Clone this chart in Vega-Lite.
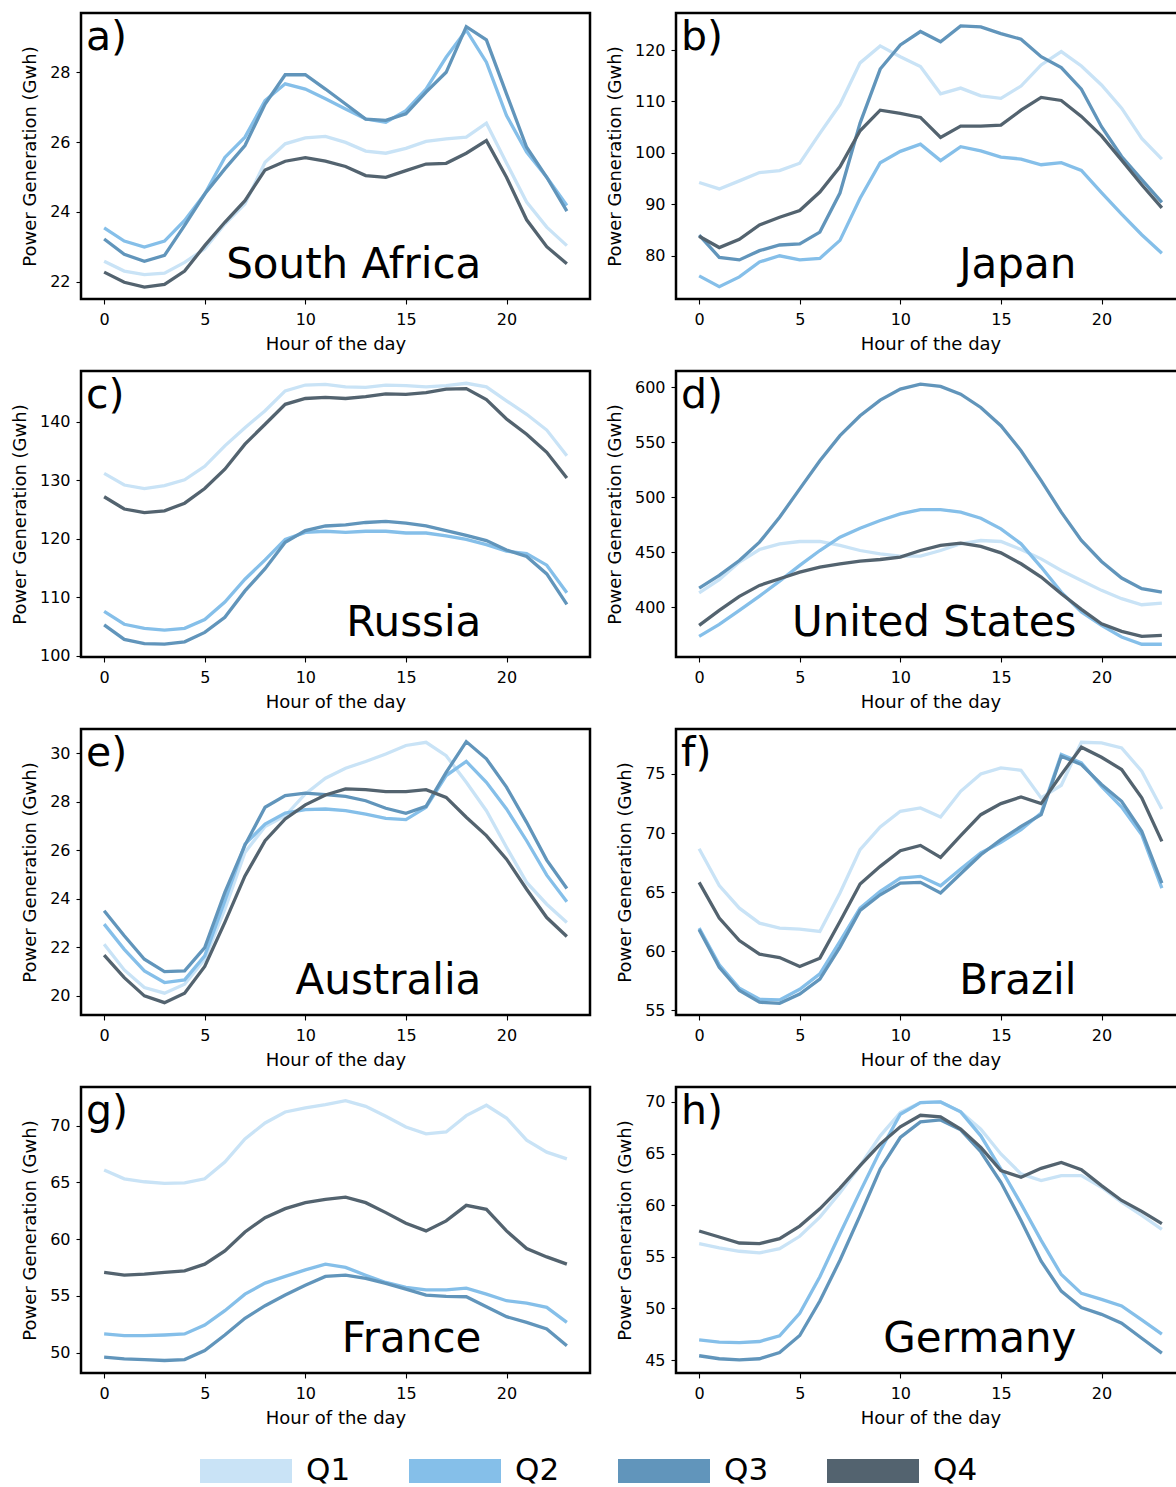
{
"$schema": "https://vega.github.io/schema/vega-lite/v6.json",
"background": "white",
"padding": {"left": 10, "top": 11, "right": 0, "bottom": 0},
"config": {
  "font": "DejaVu Sans",
  "view": {"stroke": "black", "strokeWidth": 2.5},
  "axis": {"grid": false, "domain": false, "tickColor": "black", "tickSize": 5, "tickWidth": 1.1, "labelColor": "black", "labelFontSize": 16, "titleColor": "black", "titleFontSize": 18, "titleFontWeight": "normal", "labelFont": "DejaVu Sans", "titleFont": "DejaVu Sans"},
  "axisX": {"labelPadding": 7, "titlePadding": 8},
  "axisY": {"labelPadding": 6, "titlePadding": 10},
  "legend": {"labelFont": "DejaVu Sans"}
},
"datasets": {
"za": [
{"q":"Q1","h":0,"v":22.58},{"q":"Q1","h":1,"v":22.30},{"q":"Q1","h":2,"v":22.20},{"q":"Q1","h":3,"v":22.24},{"q":"Q1","h":4,"v":22.55},{"q":"Q1","h":5,"v":22.94},{"q":"Q1","h":6,"v":23.65},{"q":"Q1","h":7,"v":24.23},{"q":"Q1","h":8,"v":25.42},{"q":"Q1","h":9,"v":25.95},{"q":"Q1","h":10,"v":26.12},{"q":"Q1","h":11,"v":26.16},{"q":"Q1","h":12,"v":25.99},{"q":"Q1","h":13,"v":25.74},{"q":"Q1","h":14,"v":25.68},{"q":"Q1","h":15,"v":25.82},{"q":"Q1","h":16,"v":26.02},{"q":"Q1","h":17,"v":26.09},{"q":"Q1","h":18,"v":26.14},{"q":"Q1","h":19,"v":26.54},{"q":"Q1","h":20,"v":25.40},{"q":"Q1","h":21,"v":24.28},{"q":"Q1","h":22,"v":23.56},{"q":"Q1","h":23,"v":23.03},
{"q":"Q2","h":0,"v":23.54},{"q":"Q2","h":1,"v":23.16},{"q":"Q2","h":2,"v":22.99},{"q":"Q2","h":3,"v":23.16},{"q":"Q2","h":4,"v":23.75},{"q":"Q2","h":5,"v":24.51},{"q":"Q2","h":6,"v":25.56},{"q":"Q2","h":7,"v":26.14},{"q":"Q2","h":8,"v":27.19},{"q":"Q2","h":9,"v":27.67},{"q":"Q2","h":10,"v":27.52},{"q":"Q2","h":11,"v":27.24},{"q":"Q2","h":12,"v":26.95},{"q":"Q2","h":13,"v":26.66},{"q":"Q2","h":14,"v":26.57},{"q":"Q2","h":15,"v":26.90},{"q":"Q2","h":16,"v":27.52},{"q":"Q2","h":17,"v":28.43},{"q":"Q2","h":18,"v":29.21},{"q":"Q2","h":19,"v":28.29},{"q":"Q2","h":20,"v":26.76},{"q":"Q2","h":21,"v":25.71},{"q":"Q2","h":22,"v":24.99},{"q":"Q2","h":23,"v":24.18},
{"q":"Q3","h":0,"v":23.22},{"q":"Q3","h":1,"v":22.78},{"q":"Q3","h":2,"v":22.58},{"q":"Q3","h":3,"v":22.75},{"q":"Q3","h":4,"v":23.61},{"q":"Q3","h":5,"v":24.51},{"q":"Q3","h":6,"v":25.23},{"q":"Q3","h":7,"v":25.90},{"q":"Q3","h":8,"v":27.09},{"q":"Q3","h":9,"v":27.93},{"q":"Q3","h":10,"v":27.93},{"q":"Q3","h":11,"v":27.52},{"q":"Q3","h":12,"v":27.09},{"q":"Q3","h":13,"v":26.66},{"q":"Q3","h":14,"v":26.62},{"q":"Q3","h":15,"v":26.81},{"q":"Q3","h":16,"v":27.43},{"q":"Q3","h":17,"v":28.00},{"q":"Q3","h":18,"v":29.31},{"q":"Q3","h":19,"v":28.93},{"q":"Q3","h":20,"v":27.38},{"q":"Q3","h":21,"v":25.85},{"q":"Q3","h":22,"v":24.99},{"q":"Q3","h":23,"v":24.02},
{"q":"Q4","h":0,"v":22.27},{"q":"Q4","h":1,"v":21.98},{"q":"Q4","h":2,"v":21.84},{"q":"Q4","h":3,"v":21.92},{"q":"Q4","h":4,"v":22.30},{"q":"Q4","h":5,"v":23.03},{"q":"Q4","h":6,"v":23.70},{"q":"Q4","h":7,"v":24.32},{"q":"Q4","h":8,"v":25.20},{"q":"Q4","h":9,"v":25.45},{"q":"Q4","h":10,"v":25.55},{"q":"Q4","h":11,"v":25.45},{"q":"Q4","h":12,"v":25.30},{"q":"Q4","h":13,"v":25.04},{"q":"Q4","h":14,"v":24.99},{"q":"Q4","h":15,"v":25.18},{"q":"Q4","h":16,"v":25.37},{"q":"Q4","h":17,"v":25.39},{"q":"Q4","h":18,"v":25.68},{"q":"Q4","h":19,"v":26.04},{"q":"Q4","h":20,"v":24.99},{"q":"Q4","h":21,"v":23.77},{"q":"Q4","h":22,"v":23.00},{"q":"Q4","h":23,"v":22.51}
],
"jp": [
{"q":"Q1","h":0,"v":94.24},{"q":"Q1","h":1,"v":93.0},{"q":"Q1","h":2,"v":94.56},{"q":"Q1","h":3,"v":96.18},{"q":"Q1","h":4,"v":96.57},{"q":"Q1","h":5,"v":98.0},{"q":"Q1","h":6,"v":103.8},{"q":"Q1","h":7,"v":109.4},{"q":"Q1","h":8,"v":117.5},{"q":"Q1","h":9,"v":120.8},{"q":"Q1","h":10,"v":118.7},{"q":"Q1","h":11,"v":116.8},{"q":"Q1","h":12,"v":111.5},{"q":"Q1","h":13,"v":112.6},{"q":"Q1","h":14,"v":111.1},{"q":"Q1","h":15,"v":110.6},{"q":"Q1","h":16,"v":113.0},{"q":"Q1","h":17,"v":117.1},{"q":"Q1","h":18,"v":119.7},{"q":"Q1","h":19,"v":116.9},{"q":"Q1","h":20,"v":113.2},{"q":"Q1","h":21,"v":108.7},{"q":"Q1","h":22,"v":102.8},{"q":"Q1","h":23,"v":98.8},
{"q":"Q2","h":0,"v":76.1},{"q":"Q2","h":1,"v":74.0},{"q":"Q2","h":2,"v":75.9},{"q":"Q2","h":3,"v":78.8},{"q":"Q2","h":4,"v":80.0},{"q":"Q2","h":5,"v":79.2},{"q":"Q2","h":6,"v":79.5},{"q":"Q2","h":7,"v":83.0},{"q":"Q2","h":8,"v":91.2},{"q":"Q2","h":9,"v":98.1},{"q":"Q2","h":10,"v":100.3},{"q":"Q2","h":11,"v":101.7},{"q":"Q2","h":12,"v":98.5},{"q":"Q2","h":13,"v":101.2},{"q":"Q2","h":14,"v":100.4},{"q":"Q2","h":15,"v":99.2},{"q":"Q2","h":16,"v":98.8},{"q":"Q2","h":17,"v":97.7},{"q":"Q2","h":18,"v":98.1},{"q":"Q2","h":19,"v":96.6},{"q":"Q2","h":20,"v":92.3},{"q":"Q2","h":21,"v":88.1},{"q":"Q2","h":22,"v":84.1},{"q":"Q2","h":23,"v":80.5},
{"q":"Q3","h":0,"v":84.0},{"q":"Q3","h":1,"v":79.7},{"q":"Q3","h":2,"v":79.2},{"q":"Q3","h":3,"v":81.0},{"q":"Q3","h":4,"v":82.1},{"q":"Q3","h":5,"v":82.3},{"q":"Q3","h":6,"v":84.6},{"q":"Q3","h":7,"v":92.2},{"q":"Q3","h":8,"v":105.8},{"q":"Q3","h":9,"v":116.3},{"q":"Q3","h":10,"v":121.0},{"q":"Q3","h":11,"v":123.6},{"q":"Q3","h":12,"v":121.6},{"q":"Q3","h":13,"v":124.7},{"q":"Q3","h":14,"v":124.5},{"q":"Q3","h":15,"v":123.2},{"q":"Q3","h":16,"v":122.1},{"q":"Q3","h":17,"v":118.7},{"q":"Q3","h":18,"v":116.6},{"q":"Q3","h":19,"v":112.4},{"q":"Q3","h":20,"v":105.1},{"q":"Q3","h":21,"v":99.3},{"q":"Q3","h":22,"v":94.8},{"q":"Q3","h":23,"v":90.4},
{"q":"Q4","h":0,"v":83.8},{"q":"Q4","h":1,"v":81.6},{"q":"Q4","h":2,"v":83.2},{"q":"Q4","h":3,"v":86.0},{"q":"Q4","h":4,"v":87.5},{"q":"Q4","h":5,"v":88.8},{"q":"Q4","h":6,"v":92.4},{"q":"Q4","h":7,"v":97.3},{"q":"Q4","h":8,"v":104.3},{"q":"Q4","h":9,"v":108.3},{"q":"Q4","h":10,"v":107.7},{"q":"Q4","h":11,"v":106.9},{"q":"Q4","h":12,"v":103.0},{"q":"Q4","h":13,"v":105.2},{"q":"Q4","h":14,"v":105.2},{"q":"Q4","h":15,"v":105.4},{"q":"Q4","h":16,"v":108.3},{"q":"Q4","h":17,"v":110.8},{"q":"Q4","h":18,"v":110.2},{"q":"Q4","h":19,"v":107.1},{"q":"Q4","h":20,"v":103.3},{"q":"Q4","h":21,"v":98.6},{"q":"Q4","h":22,"v":93.8},{"q":"Q4","h":23,"v":89.3}
],
"ru": [
{"q":"Q1","h":0,"v":131.2},{"q":"Q1","h":1,"v":129.2},{"q":"Q1","h":2,"v":128.6},{"q":"Q1","h":3,"v":129.1},{"q":"Q1","h":4,"v":130.1},{"q":"Q1","h":5,"v":132.4},{"q":"Q1","h":6,"v":135.9},{"q":"Q1","h":7,"v":139.0},{"q":"Q1","h":8,"v":141.9},{"q":"Q1","h":9,"v":145.3},{"q":"Q1","h":10,"v":146.3},{"q":"Q1","h":11,"v":146.4},{"q":"Q1","h":12,"v":146.0},{"q":"Q1","h":13,"v":145.9},{"q":"Q1","h":14,"v":146.3},{"q":"Q1","h":15,"v":146.2},{"q":"Q1","h":16,"v":146.0},{"q":"Q1","h":17,"v":146.2},{"q":"Q1","h":18,"v":146.6},{"q":"Q1","h":19,"v":146.0},{"q":"Q1","h":20,"v":143.6},{"q":"Q1","h":21,"v":141.3},{"q":"Q1","h":22,"v":138.6},{"q":"Q1","h":23,"v":134.2},
{"q":"Q2","h":0,"v":107.6},{"q":"Q2","h":1,"v":105.4},{"q":"Q2","h":2,"v":104.7},{"q":"Q2","h":3,"v":104.4},{"q":"Q2","h":4,"v":104.7},{"q":"Q2","h":5,"v":106.2},{"q":"Q2","h":6,"v":109.2},{"q":"Q2","h":7,"v":113.1},{"q":"Q2","h":8,"v":116.4},{"q":"Q2","h":9,"v":119.9},{"q":"Q2","h":10,"v":121.1},{"q":"Q2","h":11,"v":121.3},{"q":"Q2","h":12,"v":121.1},{"q":"Q2","h":13,"v":121.3},{"q":"Q2","h":14,"v":121.3},{"q":"Q2","h":15,"v":121.0},{"q":"Q2","h":16,"v":121.0},{"q":"Q2","h":17,"v":120.5},{"q":"Q2","h":18,"v":119.9},{"q":"Q2","h":19,"v":119.0},{"q":"Q2","h":20,"v":117.9},{"q":"Q2","h":21,"v":117.5},{"q":"Q2","h":22,"v":115.5},{"q":"Q2","h":23,"v":110.8},
{"q":"Q3","h":0,"v":105.3},{"q":"Q3","h":1,"v":102.8},{"q":"Q3","h":2,"v":102.1},{"q":"Q3","h":3,"v":102.0},{"q":"Q3","h":4,"v":102.4},{"q":"Q3","h":5,"v":104.0},{"q":"Q3","h":6,"v":106.6},{"q":"Q3","h":7,"v":111.1},{"q":"Q3","h":8,"v":114.9},{"q":"Q3","h":9,"v":119.4},{"q":"Q3","h":10,"v":121.4},{"q":"Q3","h":11,"v":122.2},{"q":"Q3","h":12,"v":122.4},{"q":"Q3","h":13,"v":122.8},{"q":"Q3","h":14,"v":123.0},{"q":"Q3","h":15,"v":122.7},{"q":"Q3","h":16,"v":122.2},{"q":"Q3","h":17,"v":121.4},{"q":"Q3","h":18,"v":120.6},{"q":"Q3","h":19,"v":119.7},{"q":"Q3","h":20,"v":118.1},{"q":"Q3","h":21,"v":117.0},{"q":"Q3","h":22,"v":114.0},{"q":"Q3","h":23,"v":108.8},
{"q":"Q4","h":0,"v":127.2},{"q":"Q4","h":1,"v":125.1},{"q":"Q4","h":2,"v":124.5},{"q":"Q4","h":3,"v":124.8},{"q":"Q4","h":4,"v":126.1},{"q":"Q4","h":5,"v":128.6},{"q":"Q4","h":6,"v":131.9},{"q":"Q4","h":7,"v":136.2},{"q":"Q4","h":8,"v":139.6},{"q":"Q4","h":9,"v":143.0},{"q":"Q4","h":10,"v":144.0},{"q":"Q4","h":11,"v":144.2},{"q":"Q4","h":12,"v":144.0},{"q":"Q4","h":13,"v":144.3},{"q":"Q4","h":14,"v":144.8},{"q":"Q4","h":15,"v":144.7},{"q":"Q4","h":16,"v":145.0},{"q":"Q4","h":17,"v":145.6},{"q":"Q4","h":18,"v":145.7},{"q":"Q4","h":19,"v":143.8},{"q":"Q4","h":20,"v":140.5},{"q":"Q4","h":21,"v":137.9},{"q":"Q4","h":22,"v":134.8},{"q":"Q4","h":23,"v":130.4}
],
"us": [
{"q":"Q1","h":0,"v":413.0},{"q":"Q1","h":1,"v":425.0},{"q":"Q1","h":2,"v":441.0},{"q":"Q1","h":3,"v":452.4},{"q":"Q1","h":4,"v":457.6},{"q":"Q1","h":5,"v":459.7},{"q":"Q1","h":6,"v":459.7},{"q":"Q1","h":7,"v":456.1},{"q":"Q1","h":8,"v":451.5},{"q":"Q1","h":9,"v":448.5},{"q":"Q1","h":10,"v":446.4},{"q":"Q1","h":11,"v":446.4},{"q":"Q1","h":12,"v":451.5},{"q":"Q1","h":13,"v":457.6},{"q":"Q1","h":14,"v":460.6},{"q":"Q1","h":15,"v":459.7},{"q":"Q1","h":16,"v":452.4},{"q":"Q1","h":17,"v":443.9},{"q":"Q1","h":18,"v":433.3},{"q":"Q1","h":19,"v":424.2},{"q":"Q1","h":20,"v":415.2},{"q":"Q1","h":21,"v":407.6},{"q":"Q1","h":22,"v":402.1},{"q":"Q1","h":23,"v":403.6},
{"q":"Q2","h":0,"v":373.3},{"q":"Q2","h":1,"v":384.2},{"q":"Q2","h":2,"v":397.0},{"q":"Q2","h":3,"v":410.0},{"q":"Q2","h":4,"v":423.6},{"q":"Q2","h":5,"v":437.9},{"q":"Q2","h":6,"v":451.5},{"q":"Q2","h":7,"v":463.6},{"q":"Q2","h":8,"v":471.8},{"q":"Q2","h":9,"v":478.8},{"q":"Q2","h":10,"v":484.8},{"q":"Q2","h":11,"v":488.8},{"q":"Q2","h":12,"v":488.8},{"q":"Q2","h":13,"v":486.4},{"q":"Q2","h":14,"v":480.9},{"q":"Q2","h":15,"v":471.2},{"q":"Q2","h":16,"v":457.6},{"q":"Q2","h":17,"v":436.4},{"q":"Q2","h":18,"v":413.6},{"q":"Q2","h":19,"v":395.5},{"q":"Q2","h":20,"v":383.3},{"q":"Q2","h":21,"v":372.7},{"q":"Q2","h":22,"v":366.1},{"q":"Q2","h":23,"v":366.1},
{"q":"Q3","h":0,"v":417.3},{"q":"Q3","h":1,"v":428.8},{"q":"Q3","h":2,"v":442.4},{"q":"Q3","h":3,"v":459.1},{"q":"Q3","h":4,"v":481.8},{"q":"Q3","h":5,"v":507.6},{"q":"Q3","h":6,"v":533.3},{"q":"Q3","h":7,"v":556.1},{"q":"Q3","h":8,"v":574.2},{"q":"Q3","h":9,"v":588.5},{"q":"Q3","h":10,"v":598.5},{"q":"Q3","h":11,"v":603.0},{"q":"Q3","h":12,"v":600.9},{"q":"Q3","h":13,"v":593.9},{"q":"Q3","h":14,"v":581.8},{"q":"Q3","h":15,"v":565.2},{"q":"Q3","h":16,"v":542.4},{"q":"Q3","h":17,"v":515.2},{"q":"Q3","h":18,"v":486.4},{"q":"Q3","h":19,"v":460.6},{"q":"Q3","h":20,"v":441.5},{"q":"Q3","h":21,"v":426.4},{"q":"Q3","h":22,"v":416.7},{"q":"Q3","h":23,"v":413.6},
{"q":"Q4","h":0,"v":383.3},{"q":"Q4","h":1,"v":397.0},{"q":"Q4","h":2,"v":409.7},{"q":"Q4","h":3,"v":419.7},{"q":"Q4","h":4,"v":425.8},{"q":"Q4","h":5,"v":431.8},{"q":"Q4","h":6,"v":436.4},{"q":"Q4","h":7,"v":439.4},{"q":"Q4","h":8,"v":441.8},{"q":"Q4","h":9,"v":443.3},{"q":"Q4","h":10,"v":445.5},{"q":"Q4","h":11,"v":451.5},{"q":"Q4","h":12,"v":456.1},{"q":"Q4","h":13,"v":458.2},{"q":"Q4","h":14,"v":455.2},{"q":"Q4","h":15,"v":449.4},{"q":"Q4","h":16,"v":439.4},{"q":"Q4","h":17,"v":427.3},{"q":"Q4","h":18,"v":412.1},{"q":"Q4","h":19,"v":397.9},{"q":"Q4","h":20,"v":384.8},{"q":"Q4","h":21,"v":377.9},{"q":"Q4","h":22,"v":373.3},{"q":"Q4","h":23,"v":374.2}
],
"au": [
{"q":"Q1","h":0,"v":22.12},{"q":"Q1","h":1,"v":21.06},{"q":"Q1","h":2,"v":20.33},{"q":"Q1","h":3,"v":20.10},{"q":"Q1","h":4,"v":20.47},{"q":"Q1","h":5,"v":21.50},{"q":"Q1","h":6,"v":23.57},{"q":"Q1","h":7,"v":25.91},{"q":"Q1","h":8,"v":26.98},{"q":"Q1","h":9,"v":27.42},{"q":"Q1","h":10,"v":28.32},{"q":"Q1","h":11,"v":28.97},{"q":"Q1","h":12,"v":29.38},{"q":"Q1","h":13,"v":29.66},{"q":"Q1","h":14,"v":29.97},{"q":"Q1","h":15,"v":30.32},{"q":"Q1","h":16,"v":30.45},{"q":"Q1","h":17,"v":29.90},{"q":"Q1","h":18,"v":28.80},{"q":"Q1","h":19,"v":27.63},{"q":"Q1","h":20,"v":26.12},{"q":"Q1","h":21,"v":24.67},{"q":"Q1","h":22,"v":23.77},{"q":"Q1","h":23,"v":23.02},
{"q":"Q2","h":0,"v":22.95},{"q":"Q2","h":1,"v":21.91},{"q":"Q2","h":2,"v":21.02},{"q":"Q2","h":3,"v":20.54},{"q":"Q2","h":4,"v":20.65},{"q":"Q2","h":5,"v":21.64},{"q":"Q2","h":6,"v":23.91},{"q":"Q2","h":7,"v":26.25},{"q":"Q2","h":8,"v":27.08},{"q":"Q2","h":9,"v":27.53},{"q":"Q2","h":10,"v":27.67},{"q":"Q2","h":11,"v":27.70},{"q":"Q2","h":12,"v":27.63},{"q":"Q2","h":13,"v":27.49},{"q":"Q2","h":14,"v":27.31},{"q":"Q2","h":15,"v":27.26},{"q":"Q2","h":16,"v":27.77},{"q":"Q2","h":17,"v":29.08},{"q":"Q2","h":18,"v":29.66},{"q":"Q2","h":19,"v":28.80},{"q":"Q2","h":20,"v":27.70},{"q":"Q2","h":21,"v":26.39},{"q":"Q2","h":22,"v":24.97},{"q":"Q2","h":23,"v":23.87},
{"q":"Q3","h":0,"v":23.50},{"q":"Q3","h":1,"v":22.47},{"q":"Q3","h":2,"v":21.50},{"q":"Q3","h":3,"v":20.99},{"q":"Q3","h":4,"v":21.02},{"q":"Q3","h":5,"v":21.98},{"q":"Q3","h":6,"v":24.26},{"q":"Q3","h":7,"v":26.21},{"q":"Q3","h":8,"v":27.77},{"q":"Q3","h":9,"v":28.25},{"q":"Q3","h":10,"v":28.35},{"q":"Q3","h":11,"v":28.29},{"q":"Q3","h":12,"v":28.22},{"q":"Q3","h":13,"v":28.04},{"q":"Q3","h":14,"v":27.73},{"q":"Q3","h":15,"v":27.52},{"q":"Q3","h":16,"v":27.81},{"q":"Q3","h":17,"v":29.21},{"q":"Q3","h":18,"v":30.48},{"q":"Q3","h":19,"v":29.77},{"q":"Q3","h":20,"v":28.60},{"q":"Q3","h":21,"v":27.15},{"q":"Q3","h":22,"v":25.59},{"q":"Q3","h":23,"v":24.42},
{"q":"Q4","h":0,"v":21.67},{"q":"Q4","h":1,"v":20.74},{"q":"Q4","h":2,"v":19.99},{"q":"Q4","h":3,"v":19.71},{"q":"Q4","h":4,"v":20.10},{"q":"Q4","h":5,"v":21.20},{"q":"Q4","h":6,"v":23.02},{"q":"Q4","h":7,"v":24.94},{"q":"Q4","h":8,"v":26.39},{"q":"Q4","h":9,"v":27.29},{"q":"Q4","h":10,"v":27.87},{"q":"Q4","h":11,"v":28.28},{"q":"Q4","h":12,"v":28.53},{"q":"Q4","h":13,"v":28.50},{"q":"Q4","h":14,"v":28.42},{"q":"Q4","h":15,"v":28.42},{"q":"Q4","h":16,"v":28.50},{"q":"Q4","h":17,"v":28.18},{"q":"Q4","h":18,"v":27.36},{"q":"Q4","h":19,"v":26.60},{"q":"Q4","h":20,"v":25.63},{"q":"Q4","h":21,"v":24.39},{"q":"Q4","h":22,"v":23.22},{"q":"Q4","h":23,"v":22.44}
],
"br": [
{"q":"Q1","h":0,"v":68.67},{"q":"Q1","h":1,"v":65.56},{"q":"Q1","h":2,"v":63.64},{"q":"Q1","h":3,"v":62.37},{"q":"Q1","h":4,"v":61.95},{"q":"Q1","h":5,"v":61.86},{"q":"Q1","h":6,"v":61.67},{"q":"Q1","h":7,"v":64.92},{"q":"Q1","h":8,"v":68.59},{"q":"Q1","h":9,"v":70.51},{"q":"Q1","h":10,"v":71.84},{"q":"Q1","h":11,"v":72.12},{"q":"Q1","h":12,"v":71.36},{"q":"Q1","h":13,"v":73.53},{"q":"Q1","h":14,"v":75.0},{"q":"Q1","h":15,"v":75.51},{"q":"Q1","h":16,"v":75.31},{"q":"Q1","h":17,"v":72.97},{"q":"Q1","h":18,"v":74.04},{"q":"Q1","h":19,"v":77.68},{"q":"Q1","h":20,"v":77.63},{"q":"Q1","h":21,"v":77.20},{"q":"Q1","h":22,"v":75.23},{"q":"Q1","h":23,"v":72.03},
{"q":"Q2","h":0,"v":61.95},{"q":"Q2","h":1,"v":58.84},{"q":"Q2","h":2,"v":56.86},{"q":"Q2","h":3,"v":55.93},{"q":"Q2","h":4,"v":55.88},{"q":"Q2","h":5,"v":56.78},{"q":"Q2","h":6,"v":58.08},{"q":"Q2","h":7,"v":60.82},{"q":"Q2","h":8,"v":63.64},{"q":"Q2","h":9,"v":65.06},{"q":"Q2","h":10,"v":66.19},{"q":"Q2","h":11,"v":66.33},{"q":"Q2","h":12,"v":65.54},{"q":"Q2","h":13,"v":66.95},{"q":"Q2","h":14,"v":68.31},{"q":"Q2","h":15,"v":69.21},{"q":"Q2","h":16,"v":70.28},{"q":"Q2","h":17,"v":71.69},{"q":"Q2","h":18,"v":76.64},{"q":"Q2","h":19,"v":75.93},{"q":"Q2","h":20,"v":73.95},{"q":"Q2","h":21,"v":72.20},{"q":"Q2","h":22,"v":69.86},{"q":"Q2","h":23,"v":65.34},
{"q":"Q3","h":0,"v":61.81},{"q":"Q3","h":1,"v":58.64},{"q":"Q3","h":2,"v":56.67},{"q":"Q3","h":3,"v":55.68},{"q":"Q3","h":4,"v":55.59},{"q":"Q3","h":5,"v":56.38},{"q":"Q3","h":6,"v":57.63},{"q":"Q3","h":7,"v":60.34},{"q":"Q3","h":8,"v":63.45},{"q":"Q3","h":9,"v":64.77},{"q":"Q3","h":10,"v":65.76},{"q":"Q3","h":11,"v":65.82},{"q":"Q3","h":12,"v":64.92},{"q":"Q3","h":13,"v":66.55},{"q":"Q3","h":14,"v":68.16},{"q":"Q3","h":15,"v":69.44},{"q":"Q3","h":16,"v":70.56},{"q":"Q3","h":17,"v":71.55},{"q":"Q3","h":18,"v":76.50},{"q":"Q3","h":19,"v":75.79},{"q":"Q3","h":20,"v":74.10},{"q":"Q3","h":21,"v":72.68},{"q":"Q3","h":22,"v":70.14},{"q":"Q3","h":23,"v":65.76},
{"q":"Q4","h":0,"v":65.82},{"q":"Q4","h":1,"v":62.80},{"q":"Q4","h":2,"v":60.90},{"q":"Q4","h":3,"v":59.75},{"q":"Q4","h":4,"v":59.46},{"q":"Q4","h":5,"v":58.70},{"q":"Q4","h":6,"v":59.41},{"q":"Q4","h":7,"v":62.51},{"q":"Q4","h":8,"v":65.68},{"q":"Q4","h":9,"v":67.18},{"q":"Q4","h":10,"v":68.50},{"q":"Q4","h":11,"v":68.95},{"q":"Q4","h":12,"v":67.94},{"q":"Q4","h":13,"v":69.77},{"q":"Q4","h":14,"v":71.55},{"q":"Q4","h":15,"v":72.49},{"q":"Q4","h":16,"v":73.05},{"q":"Q4","h":17,"v":72.49},{"q":"Q4","h":18,"v":74.94},{"q":"Q4","h":19,"v":77.26},{"q":"Q4","h":20,"v":76.41},{"q":"Q4","h":21,"v":75.37},{"q":"Q4","h":22,"v":72.97},{"q":"Q4","h":23,"v":69.29}
],
"fr": [
{"q":"Q1","h":0,"v":66.08},{"q":"Q1","h":1,"v":65.31},{"q":"Q1","h":2,"v":65.05},{"q":"Q1","h":3,"v":64.90},{"q":"Q1","h":4,"v":64.96},{"q":"Q1","h":5,"v":65.31},{"q":"Q1","h":6,"v":66.78},{"q":"Q1","h":7,"v":68.83},{"q":"Q1","h":8,"v":70.23},{"q":"Q1","h":9,"v":71.20},{"q":"Q1","h":10,"v":71.55},{"q":"Q1","h":11,"v":71.84},{"q":"Q1","h":12,"v":72.20},{"q":"Q1","h":13,"v":71.70},{"q":"Q1","h":14,"v":70.82},{"q":"Q1","h":15,"v":69.88},{"q":"Q1","h":16,"v":69.27},{"q":"Q1","h":17,"v":69.44},{"q":"Q1","h":18,"v":70.88},{"q":"Q1","h":19,"v":71.79},{"q":"Q1","h":20,"v":70.67},{"q":"Q1","h":21,"v":68.71},{"q":"Q1","h":22,"v":67.66},{"q":"Q1","h":23,"v":67.07},
{"q":"Q2","h":0,"v":51.64},{"q":"Q2","h":1,"v":51.49},{"q":"Q2","h":2,"v":51.49},{"q":"Q2","h":3,"v":51.55},{"q":"Q2","h":4,"v":51.64},{"q":"Q2","h":5,"v":52.43},{"q":"Q2","h":6,"v":53.69},{"q":"Q2","h":7,"v":55.15},{"q":"Q2","h":8,"v":56.12},{"q":"Q2","h":9,"v":56.71},{"q":"Q2","h":10,"v":57.29},{"q":"Q2","h":11,"v":57.79},{"q":"Q2","h":12,"v":57.50},{"q":"Q2","h":13,"v":56.82},{"q":"Q2","h":14,"v":56.18},{"q":"Q2","h":15,"v":55.74},{"q":"Q2","h":16,"v":55.53},{"q":"Q2","h":17,"v":55.53},{"q":"Q2","h":18,"v":55.68},{"q":"Q2","h":19,"v":55.15},{"q":"Q2","h":20,"v":54.57},{"q":"Q2","h":21,"v":54.36},{"q":"Q2","h":22,"v":53.98},{"q":"Q2","h":23,"v":52.66},
{"q":"Q3","h":0,"v":49.59},{"q":"Q3","h":1,"v":49.44},{"q":"Q3","h":2,"v":49.38},{"q":"Q3","h":3,"v":49.30},{"q":"Q3","h":4,"v":49.38},{"q":"Q3","h":5,"v":50.18},{"q":"Q3","h":6,"v":51.55},{"q":"Q3","h":7,"v":53.02},{"q":"Q3","h":8,"v":54.13},{"q":"Q3","h":9,"v":55.07},{"q":"Q3","h":10,"v":55.94},{"q":"Q3","h":11,"v":56.71},{"q":"Q3","h":12,"v":56.82},{"q":"Q3","h":13,"v":56.53},{"q":"Q3","h":14,"v":56.09},{"q":"Q3","h":15,"v":55.59},{"q":"Q3","h":16,"v":55.07},{"q":"Q3","h":17,"v":54.95},{"q":"Q3","h":18,"v":54.92},{"q":"Q3","h":19,"v":54.04},{"q":"Q3","h":20,"v":53.16},{"q":"Q3","h":21,"v":52.66},{"q":"Q3","h":22,"v":52.08},{"q":"Q3","h":23,"v":50.61},
{"q":"Q4","h":0,"v":57.06},{"q":"Q4","h":1,"v":56.82},{"q":"Q4","h":2,"v":56.91},{"q":"Q4","h":3,"v":57.06},{"q":"Q4","h":4,"v":57.20},{"q":"Q4","h":5,"v":57.79},{"q":"Q4","h":6,"v":58.96},{"q":"Q4","h":7,"v":60.63},{"q":"Q4","h":8,"v":61.89},{"q":"Q4","h":9,"v":62.68},{"q":"Q4","h":10,"v":63.21},{"q":"Q4","h":11,"v":63.50},{"q":"Q4","h":12,"v":63.70},{"q":"Q4","h":13,"v":63.21},{"q":"Q4","h":14,"v":62.33},{"q":"Q4","h":15,"v":61.39},{"q":"Q4","h":16,"v":60.72},{"q":"Q4","h":17,"v":61.60},{"q":"Q4","h":18,"v":62.97},{"q":"Q4","h":19,"v":62.62},{"q":"Q4","h":20,"v":60.72},{"q":"Q4","h":21,"v":59.17},{"q":"Q4","h":22,"v":58.43},{"q":"Q4","h":23,"v":57.79}
],
"de": [
{"q":"Q1","h":0,"v":56.28},{"q":"Q1","h":1,"v":55.86},{"q":"Q1","h":2,"v":55.54},{"q":"Q1","h":3,"v":55.38},{"q":"Q1","h":4,"v":55.80},{"q":"Q1","h":5,"v":56.99},{"q":"Q1","h":6,"v":58.85},{"q":"Q1","h":7,"v":61.20},{"q":"Q1","h":8,"v":63.83},{"q":"Q1","h":9,"v":66.72},{"q":"Q1","h":10,"v":68.97},{"q":"Q1","h":11,"v":69.94},{"q":"Q1","h":12,"v":70.0},{"q":"Q1","h":13,"v":69.04},{"q":"Q1","h":14,"v":67.36},{"q":"Q1","h":15,"v":64.96},{"q":"Q1","h":16,"v":63.03},{"q":"Q1","h":17,"v":62.38},{"q":"Q1","h":18,"v":62.87},{"q":"Q1","h":19,"v":62.87},{"q":"Q1","h":20,"v":61.74},{"q":"Q1","h":21,"v":60.30},{"q":"Q1","h":22,"v":59.01},{"q":"Q1","h":23,"v":57.66},
{"q":"Q2","h":0,"v":46.96},{"q":"Q2","h":1,"v":46.74},{"q":"Q2","h":2,"v":46.70},{"q":"Q2","h":3,"v":46.80},{"q":"Q2","h":4,"v":47.35},{"q":"Q2","h":5,"v":49.53},{"q":"Q2","h":6,"v":53.07},{"q":"Q2","h":7,"v":57.24},{"q":"Q2","h":8,"v":61.32},{"q":"Q2","h":9,"v":65.28},{"q":"Q2","h":10,"v":68.81},{"q":"Q2","h":11,"v":69.94},{"q":"Q2","h":12,"v":70.0},{"q":"Q2","h":13,"v":69.04},{"q":"Q2","h":14,"v":66.72},{"q":"Q2","h":15,"v":63.51},{"q":"Q2","h":16,"v":60.13},{"q":"Q2","h":17,"v":56.60},{"q":"Q2","h":18,"v":53.29},{"q":"Q2","h":19,"v":51.46},{"q":"Q2","h":20,"v":50.88},{"q":"Q2","h":21,"v":50.24},{"q":"Q2","h":22,"v":48.89},{"q":"Q2","h":23,"v":47.51},
{"q":"Q3","h":0,"v":45.42},{"q":"Q3","h":1,"v":45.13},{"q":"Q3","h":2,"v":45.03},{"q":"Q3","h":3,"v":45.13},{"q":"Q3","h":4,"v":45.74},{"q":"Q3","h":5,"v":47.38},{"q":"Q3","h":6,"v":50.72},{"q":"Q3","h":7,"v":54.67},{"q":"Q3","h":8,"v":59.01},{"q":"Q3","h":9,"v":63.51},{"q":"Q3","h":10,"v":66.56},{"q":"Q3","h":11,"v":68.07},{"q":"Q3","h":12,"v":68.26},{"q":"Q3","h":13,"v":67.30},{"q":"Q3","h":14,"v":65.18},{"q":"Q3","h":15,"v":62.22},{"q":"Q3","h":16,"v":58.53},{"q":"Q3","h":17,"v":54.58},{"q":"Q3","h":18,"v":51.68},{"q":"Q3","h":19,"v":50.08},{"q":"Q3","h":20,"v":49.43},{"q":"Q3","h":21,"v":48.57},{"q":"Q3","h":22,"v":47.12},{"q":"Q3","h":23,"v":45.67},
{"q":"Q4","h":0,"v":57.50},{"q":"Q4","h":1,"v":56.92},{"q":"Q4","h":2,"v":56.34},{"q":"Q4","h":3,"v":56.28},{"q":"Q4","h":4,"v":56.76},{"q":"Q4","h":5,"v":57.98},{"q":"Q4","h":6,"v":59.65},{"q":"Q4","h":7,"v":61.65},{"q":"Q4","h":8,"v":63.83},{"q":"Q4","h":9,"v":65.92},{"q":"Q4","h":10,"v":67.59},{"q":"Q4","h":11,"v":68.71},{"q":"Q4","h":12,"v":68.55},{"q":"Q4","h":13,"v":67.37},{"q":"Q4","h":14,"v":65.60},{"q":"Q4","h":15,"v":63.35},{"q":"Q4","h":16,"v":62.71},{"q":"Q4","h":17,"v":63.57},{"q":"Q4","h":18,"v":64.15},{"q":"Q4","h":19,"v":63.44},{"q":"Q4","h":20,"v":61.90},{"q":"Q4","h":21,"v":60.46},{"q":"Q4","h":22,"v":59.40},{"q":"Q4","h":23,"v":58.21}
]
},
"columns": 2,
"bounds": "flush",
"spacing": {"row": 72, "column": 86},
"resolve": {"scale": {"x": "independent", "y": "independent", "color": "shared"}},
"concat": [
{"width": 509, "height": 286, "layer": [
 {"data": {"name": "za"}, "mark": {"type": "line", "strokeWidth": 3.3},
  "encoding": {
   "x": {"field": "h", "type": "quantitative", "scale": {"domain": [-1.15, 24.15], "nice": false, "zero": false}, "axis": {"values": [0,5,10,15,20], "title": "Hour of the day"}},
   "y": {"field": "v", "type": "quantitative", "scale": {"domain": [21.5, 29.7], "nice": false, "zero": false}, "axis": {"values": [22,24,26,28], "title": "Power Generation (Gwh)"}},
   "color": {"field": "q", "type": "nominal", "scale": {"domain": ["Q1","Q2","Q3","Q4"], "range": ["#c9e3f6","#85bfe9","#6195bb","#53636f"]},
     "legend": {"title": null, "orient": "none", "legendX": 107, "legendY": 1400, "direction": "horizontal", "columns": 4, "symbolType": "stroke", "symbolSize": 8464, "symbolStrokeWidth": 24, "symbolOpacity": 1, "labelFontSize": 31, "labelOffset": 2, "columnPadding": 10, "padding": 0, "labelColor": "black"}}}},
 {"data": {"values": [{}]}, "mark": {"type": "text", "text": "a)", "align": "left", "baseline": "alphabetic", "fontSize": 41, "dx": 5, "dy": 37},
  "encoding": {"x": {"datum": -1.15, "type": "quantitative", "axis": {"values": [0,5,10,15,20], "title": "Hour of the day"}}, "y": {"datum": 29.7, "type": "quantitative", "axis": {"values": [22,24,26,28], "title": "Power Generation (Gwh)"}}}},
 {"data": {"values": [{}]}, "mark": {"type": "text", "text": "South Africa", "align": "right", "baseline": "alphabetic", "fontSize": 42, "dy": -21},
  "encoding": {"x": {"datum": 18.75, "type": "quantitative", "axis": {"values": [0,5,10,15,20], "title": "Hour of the day"}}, "y": {"datum": 21.5, "type": "quantitative", "axis": {"values": [22,24,26,28], "title": "Power Generation (Gwh)"}}}}
]},
{"width": 509, "height": 286, "layer": [
 {"data": {"name": "jp"}, "mark": {"type": "line", "strokeWidth": 3.3},
  "encoding": {
   "x": {"field": "h", "type": "quantitative", "scale": {"domain": [-1.15, 24.15], "nice": false, "zero": false}, "axis": {"values": [0,5,10,15,20], "title": "Hour of the day"}},
   "y": {"field": "v", "type": "quantitative", "scale": {"domain": [71.6, 127.2], "nice": false, "zero": false}, "axis": {"values": [80,90,100,110,120], "title": "Power Generation (Gwh)"}},
   "color": {"field": "q", "type": "nominal", "legend": null}}},
 {"data": {"values": [{}]}, "mark": {"type": "text", "text": "b)", "align": "left", "baseline": "alphabetic", "fontSize": 41, "dx": 5, "dy": 37},
  "encoding": {"x": {"datum": -1.15, "type": "quantitative", "axis": {"values": [0,5,10,15,20], "title": "Hour of the day"}}, "y": {"datum": 127.2, "type": "quantitative", "axis": {"values": [80,90,100,110,120], "title": "Power Generation (Gwh)"}}}},
 {"data": {"values": [{}]}, "mark": {"type": "text", "text": "Japan", "align": "right", "baseline": "alphabetic", "fontSize": 42, "dy": -21},
  "encoding": {"x": {"datum": 18.75, "type": "quantitative", "axis": {"values": [0,5,10,15,20], "title": "Hour of the day"}}, "y": {"datum": 71.6, "type": "quantitative", "axis": {"values": [80,90,100,110,120], "title": "Power Generation (Gwh)"}}}}
]},
{"width": 509, "height": 286, "layer": [
 {"data": {"name": "ru"}, "mark": {"type": "line", "strokeWidth": 3.3},
  "encoding": {
   "x": {"field": "h", "type": "quantitative", "scale": {"domain": [-1.15, 24.15], "nice": false, "zero": false}, "axis": {"values": [0,5,10,15,20], "title": "Hour of the day"}},
   "y": {"field": "v", "type": "quantitative", "scale": {"domain": [99.8, 148.7], "nice": false, "zero": false}, "axis": {"values": [100,110,120,130,140], "title": "Power Generation (Gwh)"}},
   "color": {"field": "q", "type": "nominal", "legend": null}}},
 {"data": {"values": [{}]}, "mark": {"type": "text", "text": "c)", "align": "left", "baseline": "alphabetic", "fontSize": 41, "dx": 5, "dy": 37},
  "encoding": {"x": {"datum": -1.15, "type": "quantitative", "axis": {"values": [0,5,10,15,20], "title": "Hour of the day"}}, "y": {"datum": 148.7, "type": "quantitative", "axis": {"values": [100,110,120,130,140], "title": "Power Generation (Gwh)"}}}},
 {"data": {"values": [{}]}, "mark": {"type": "text", "text": "Russia", "align": "right", "baseline": "alphabetic", "fontSize": 42, "dy": -21},
  "encoding": {"x": {"datum": 18.75, "type": "quantitative", "axis": {"values": [0,5,10,15,20], "title": "Hour of the day"}}, "y": {"datum": 99.8, "type": "quantitative", "axis": {"values": [100,110,120,130,140], "title": "Power Generation (Gwh)"}}}}
]},
{"width": 509, "height": 286, "layer": [
 {"data": {"name": "us"}, "mark": {"type": "line", "strokeWidth": 3.3},
  "encoding": {
   "x": {"field": "h", "type": "quantitative", "scale": {"domain": [-1.15, 24.15], "nice": false, "zero": false}, "axis": {"values": [0,5,10,15,20], "title": "Hour of the day"}},
   "y": {"field": "v", "type": "quantitative", "scale": {"domain": [354.5, 615.0], "nice": false, "zero": false}, "axis": {"values": [400,450,500,550,600], "title": "Power Generation (Gwh)"}},
   "color": {"field": "q", "type": "nominal", "legend": null}}},
 {"data": {"values": [{}]}, "mark": {"type": "text", "text": "d)", "align": "left", "baseline": "alphabetic", "fontSize": 41, "dx": 5, "dy": 37},
  "encoding": {"x": {"datum": -1.15, "type": "quantitative", "axis": {"values": [0,5,10,15,20], "title": "Hour of the day"}}, "y": {"datum": 615.0, "type": "quantitative", "axis": {"values": [400,450,500,550,600], "title": "Power Generation (Gwh)"}}}},
 {"data": {"values": [{}]}, "mark": {"type": "text", "text": "United States", "align": "right", "baseline": "alphabetic", "fontSize": 42, "dy": -21},
  "encoding": {"x": {"datum": 18.75, "type": "quantitative", "axis": {"values": [0,5,10,15,20], "title": "Hour of the day"}}, "y": {"datum": 354.5, "type": "quantitative", "axis": {"values": [400,450,500,550,600], "title": "Power Generation (Gwh)"}}}}
]},
{"width": 509, "height": 286, "layer": [
 {"data": {"name": "au"}, "mark": {"type": "line", "strokeWidth": 3.3},
  "encoding": {
   "x": {"field": "h", "type": "quantitative", "scale": {"domain": [-1.15, 24.15], "nice": false, "zero": false}, "axis": {"values": [0,5,10,15,20], "title": "Hour of the day"}},
   "y": {"field": "v", "type": "quantitative", "scale": {"domain": [19.2, 31.0], "nice": false, "zero": false}, "axis": {"values": [20,22,24,26,28,30], "title": "Power Generation (Gwh)"}},
   "color": {"field": "q", "type": "nominal", "legend": null}}},
 {"data": {"values": [{}]}, "mark": {"type": "text", "text": "e)", "align": "left", "baseline": "alphabetic", "fontSize": 41, "dx": 5, "dy": 37},
  "encoding": {"x": {"datum": -1.15, "type": "quantitative", "axis": {"values": [0,5,10,15,20], "title": "Hour of the day"}}, "y": {"datum": 31.0, "type": "quantitative", "axis": {"values": [20,22,24,26,28,30], "title": "Power Generation (Gwh)"}}}},
 {"data": {"values": [{}]}, "mark": {"type": "text", "text": "Australia", "align": "right", "baseline": "alphabetic", "fontSize": 42, "dy": -21},
  "encoding": {"x": {"datum": 18.75, "type": "quantitative", "axis": {"values": [0,5,10,15,20], "title": "Hour of the day"}}, "y": {"datum": 19.2, "type": "quantitative", "axis": {"values": [20,22,24,26,28,30], "title": "Power Generation (Gwh)"}}}}
]},
{"width": 509, "height": 286, "layer": [
 {"data": {"name": "br"}, "mark": {"type": "line", "strokeWidth": 3.3},
  "encoding": {
   "x": {"field": "h", "type": "quantitative", "scale": {"domain": [-1.15, 24.15], "nice": false, "zero": false}, "axis": {"values": [0,5,10,15,20], "title": "Hour of the day"}},
   "y": {"field": "v", "type": "quantitative", "scale": {"domain": [54.6, 78.8], "nice": false, "zero": false}, "axis": {"values": [55,60,65,70,75], "title": "Power Generation (Gwh)"}},
   "color": {"field": "q", "type": "nominal", "legend": null}}},
 {"data": {"values": [{}]}, "mark": {"type": "text", "text": "f)", "align": "left", "baseline": "alphabetic", "fontSize": 41, "dx": 5, "dy": 37},
  "encoding": {"x": {"datum": -1.15, "type": "quantitative", "axis": {"values": [0,5,10,15,20], "title": "Hour of the day"}}, "y": {"datum": 78.8, "type": "quantitative", "axis": {"values": [55,60,65,70,75], "title": "Power Generation (Gwh)"}}}},
 {"data": {"values": [{}]}, "mark": {"type": "text", "text": "Brazil", "align": "right", "baseline": "alphabetic", "fontSize": 42, "dy": -21},
  "encoding": {"x": {"datum": 18.75, "type": "quantitative", "axis": {"values": [0,5,10,15,20], "title": "Hour of the day"}}, "y": {"datum": 54.6, "type": "quantitative", "axis": {"values": [55,60,65,70,75], "title": "Power Generation (Gwh)"}}}}
]},
{"width": 509, "height": 286, "layer": [
 {"data": {"name": "fr"}, "mark": {"type": "line", "strokeWidth": 3.3},
  "encoding": {
   "x": {"field": "h", "type": "quantitative", "scale": {"domain": [-1.15, 24.15], "nice": false, "zero": false}, "axis": {"values": [0,5,10,15,20], "title": "Hour of the day"}},
   "y": {"field": "v", "type": "quantitative", "scale": {"domain": [48.2, 73.4], "nice": false, "zero": false}, "axis": {"values": [50,55,60,65,70], "title": "Power Generation (Gwh)"}},
   "color": {"field": "q", "type": "nominal", "legend": null}}},
 {"data": {"values": [{}]}, "mark": {"type": "text", "text": "g)", "align": "left", "baseline": "alphabetic", "fontSize": 41, "dx": 5, "dy": 37},
  "encoding": {"x": {"datum": -1.15, "type": "quantitative", "axis": {"values": [0,5,10,15,20], "title": "Hour of the day"}}, "y": {"datum": 73.4, "type": "quantitative", "axis": {"values": [50,55,60,65,70], "title": "Power Generation (Gwh)"}}}},
 {"data": {"values": [{}]}, "mark": {"type": "text", "text": "France", "align": "right", "baseline": "alphabetic", "fontSize": 42, "dy": -21},
  "encoding": {"x": {"datum": 18.75, "type": "quantitative", "axis": {"values": [0,5,10,15,20], "title": "Hour of the day"}}, "y": {"datum": 48.2, "type": "quantitative", "axis": {"values": [50,55,60,65,70], "title": "Power Generation (Gwh)"}}}}
]},
{"width": 509, "height": 286, "layer": [
 {"data": {"name": "de"}, "mark": {"type": "line", "strokeWidth": 3.3},
  "encoding": {
   "x": {"field": "h", "type": "quantitative", "scale": {"domain": [-1.15, 24.15], "nice": false, "zero": false}, "axis": {"values": [0,5,10,15,20], "title": "Hour of the day"}},
   "y": {"field": "v", "type": "quantitative", "scale": {"domain": [43.75, 71.45], "nice": false, "zero": false}, "axis": {"values": [45,50,55,60,65,70], "title": "Power Generation (Gwh)"}},
   "color": {"field": "q", "type": "nominal", "legend": null}}},
 {"data": {"values": [{}]}, "mark": {"type": "text", "text": "h)", "align": "left", "baseline": "alphabetic", "fontSize": 41, "dx": 5, "dy": 37},
  "encoding": {"x": {"datum": -1.15, "type": "quantitative", "axis": {"values": [0,5,10,15,20], "title": "Hour of the day"}}, "y": {"datum": 71.45, "type": "quantitative", "axis": {"values": [45,50,55,60,65,70], "title": "Power Generation (Gwh)"}}}},
 {"data": {"values": [{}]}, "mark": {"type": "text", "text": "Germany", "align": "right", "baseline": "alphabetic", "fontSize": 42, "dy": -21},
  "encoding": {"x": {"datum": 18.75, "type": "quantitative", "axis": {"values": [0,5,10,15,20], "title": "Hour of the day"}}, "y": {"datum": 43.75, "type": "quantitative", "axis": {"values": [45,50,55,60,65,70], "title": "Power Generation (Gwh)"}}}}
]}
]
}
